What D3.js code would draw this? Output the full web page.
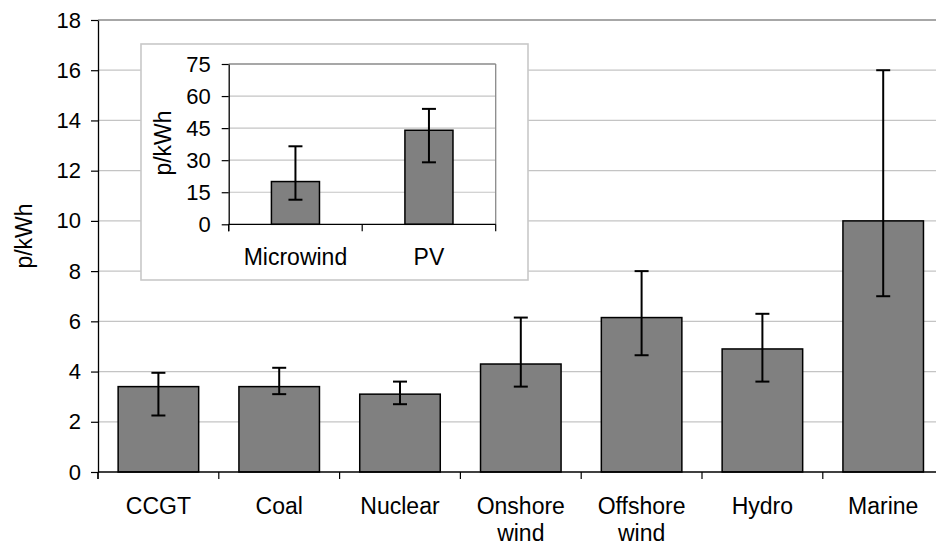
<!DOCTYPE html>
<html>
<head>
<meta charset="utf-8">
<script src="https://cdn.jsdelivr.net/npm/d3@7"></script>
<style>
  html, body { margin: 0; padding: 0; background: #fff; }
  svg { display: block; font-family: "Liberation Sans", Arial, sans-serif; }
</style>
</head>
<body>
<svg id="chart" width="936" height="547"></svg>
<script>
// ---- data ----
const categories = ["CCGT", "Coal", "Nuclear", "Onshore wind", "Offshore wind", "Hydro", "Marine"];
const costs      = [3.4, 3.4, 3.1, 4.3, 6.15, 4.9, 10.0];
const costLow    = [2.25, 3.1, 2.7, 3.4, 4.65, 3.6, 7.0];
const costHigh   = [3.95, 4.15, 3.6, 6.15, 8.0, 6.3, 16.0];
const yTicks     = [0, 2, 4, 6, 8, 10, 12, 14, 16, 18];

const insetCategories = ["Microwind", "PV"];
const insetCosts      = [20, 44];
const insetLow        = [11.5, 29];
const insetHigh       = [36.5, 54];
const insetTicks      = [0, 15, 30, 45, 60, 75];

const yTitle = "p/kWh";

// ---- drawing ----
const svg = d3.select("#chart");
const tickFont = 22, catFont = 23;

function drawPanel(g, o) {
  const x = d3.scaleBand().domain(o.cats).range([o.left, o.right])
    .paddingInner(o.pad).paddingOuter(o.pad / 2);
  const y = d3.scaleLinear().domain([0, o.max]).range([o.bottom, o.top]);

  // gridlines
  g.append("g").selectAll("line").data(o.ticks.filter(t => t > 0 && t < o.max)).join("line")
    .attr("x1", o.left).attr("x2", o.right)
    .attr("y1", d => y(d)).attr("y2", d => y(d))
    .attr("stroke", "#c4c4c4").attr("stroke-width", 1.2);
  // plot area border (top/right)
  g.append("line").attr("x1", o.left).attr("x2", o.right)
    .attr("y1", y(o.max)).attr("y2", y(o.max))
    .attr("stroke", "#8a8a8a").attr("stroke-width", 1.3);
  g.append("line").attr("x1", o.right).attr("x2", o.right)
    .attr("y1", y(o.max)).attr("y2", y(0))
    .attr("stroke", "#8a8a8a").attr("stroke-width", 1.3);

  // bars
  g.append("g").selectAll("rect").data(o.cats).join("rect")
    .attr("x", d => x(d)).attr("width", x.bandwidth())
    .attr("y", (d, i) => y(o.vals[i]))
    .attr("height", (d, i) => y(0) - y(o.vals[i]))
    .attr("fill", "#808080").attr("stroke", "#000").attr("stroke-width", 1.5);

  // error bars
  const eg = g.append("g").attr("stroke", "#000").attr("stroke-width", 2);
  o.cats.forEach((c, i) => {
    const cx = x(c) + x.bandwidth() / 2;
    eg.append("line").attr("x1", cx).attr("x2", cx).attr("y1", y(o.lo[i])).attr("y2", y(o.hi[i]));
    [o.lo[i], o.hi[i]].forEach(v => {
      eg.append("line").attr("x1", cx - 7).attr("x2", cx + 7).attr("y1", y(v)).attr("y2", y(v));
    });
  });

  // y axis
  const yAxis = d3.axisLeft(y).tickValues(o.ticks).tickSize(7).tickPadding(o.tickPad).tickSizeOuter(0);
  const ya = g.append("g").attr("transform", `translate(${o.left},0)`).call(yAxis);
  ya.select(".domain").attr("stroke", "#000").attr("stroke-width", 1.3);
  ya.selectAll(".tick line").attr("stroke", "#000").attr("stroke-width", 1.2);
  ya.selectAll(".tick text").attr("font-size", tickFont).attr("fill", "#000")
    .attr("font-family", "Liberation Sans, Arial, sans-serif");
  // axis extends below the baseline down to tick length
  g.append("line").attr("x1", o.left).attr("x2", o.left).attr("y1", y(0)).attr("y2", y(0) + 7)
    .attr("stroke", "#000").attr("stroke-width", 1.3);

  // x axis line
  g.append("line").attr("x1", o.left).attr("x2", o.right).attr("y1", y(0)).attr("y2", y(0))
    .attr("stroke", "#000").attr("stroke-width", 1.3);
  // category boundary ticks
  const step = x.step();
  const bounds = d3.range(o.cats.length + 1).map(i => o.left + i * step);
  g.append("g").selectAll("line").data(bounds).join("line")
    .attr("x1", d => d).attr("x2", d => d).attr("y1", y(0)).attr("y2", y(0) + 7)
    .attr("stroke", "#000").attr("stroke-width", 1.2);

  // category labels
  const lg = g.append("g").attr("font-size", catFont).attr("text-anchor", "middle").attr("fill", "#000");
  o.cats.forEach(c => {
    const words = o.wrap ? c.split(" ") : [c];
    const t = lg.append("text").attr("x", x(c) + x.bandwidth() / 2).attr("y", o.labelY);
    words.forEach((w, k) => t.append("tspan").attr("x", x(c) + x.bandwidth() / 2)
      .attr("dy", k === 0 ? 0 : 27).text(w));
  });

  // y title
  g.append("text").attr("transform", `translate(${o.titleX},${o.titleY}) rotate(-90)`)
    .attr("text-anchor", "middle").attr("font-size", catFont).attr("fill", "#000").text(yTitle);
}

const main = svg.append("g");
drawPanel(main, {
  cats: categories, vals: costs, lo: costLow, hi: costHigh, ticks: yTicks, max: 18,
  left: 98, right: 98 + 7 * 120.8, top: 20, bottom: 472, pad: 1 / 3,
  labelY: 514, wrap: true, titleX: 32, titleY: 236, tickPad: 10
});

// inset box
svg.append("rect").attr("x", 141).attr("y", 44).attr("width", 387).attr("height", 236)
  .attr("fill", "#fff").attr("stroke", "#c8c8c8").attr("stroke-width", 1.6);
const inset = svg.append("g");
drawPanel(inset, {
  cats: insetCategories, vals: insetCosts, lo: insetLow, hi: insetHigh, ticks: insetTicks, max: 75,
  left: 228.7, right: 495.7, top: 64, bottom: 224.3, pad: 0.64,
  labelY: 265, wrap: false, titleX: 171, titleY: 143, tickPad: 11
});
</script>
</body>
</html>
